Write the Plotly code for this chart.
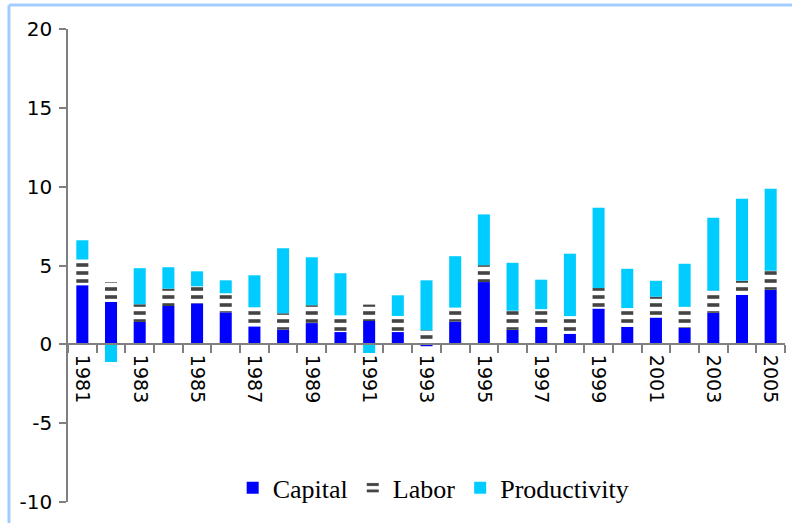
import plotly.graph_objects as go

# Данные (оценены по картинке)
years = [str(y) for y in range(1981, 2006)]
capital = [3.75, 2.69, 1.42, 2.43, 2.60, 2.03, 1.14, 0.93, 1.35, 0.78,
           1.48, 0.78, -0.12, 1.44, 3.95, 0.92, 1.11, 0.67, 2.27, 1.11,
           1.70, 1.05, 2.00, 3.14, 3.46]
labor = [1.63, 1.25, 1.12, 1.10, 1.08, 1.21, 1.21, 1.04, 1.13, 1.06,
         1.04, 1.02, 0.89, 0.89, 1.07, 1.21, 1.12, 1.12, 1.30, 1.19,
         1.32, 1.33, 1.40, 0.89, 1.21]
productivity = [1.22, -1.12, 2.29, 1.36, 0.95, 0.82, 2.03, 4.13, 3.04, 2.67,
                -0.55, 1.31, 3.17, 3.26, 3.22, 3.04, 1.87, 3.96, 5.10, 2.49,
                1.01, 2.73, 4.63, 5.21, 5.20]
tick_text = [y if i % 2 == 0 else "" for i, y in enumerate(years)]
y_ticks = [-10, -5, 0, 5, 10, 15, 20]
y_tick_text = [str(v) for v in y_ticks]  # обычный дефис, не "−"

fig = go.Figure()
fig.add_trace(go.Bar(x=years, y=capital, name="Capital",
                     marker=dict(color="#0000FF", line=dict(width=0))))
fig.add_trace(go.Bar(x=years, y=labor, name="Labor",
                     marker=dict(color="#ffffff", line=dict(width=0),
                                 pattern=dict(shape="-", fgcolor="#444444",
                                              bgcolor="#ffffff", size=8,
                                              solidity=0.45, fgopacity=1))))
fig.add_trace(go.Bar(x=years, y=productivity, name="Productivity",
                     marker=dict(color="#00CCFF", line=dict(width=0))))

fig.update_layout(
    width=792, height=523,
    barmode="relative", bargap=0.58,
    plot_bgcolor="white", paper_bgcolor="white",
    margin=dict(l=68, r=7, t=29, b=21),
    showlegend=True,
    legend=dict(orientation="h", x=0.51, y=0.03, xanchor="center", yanchor="middle",
                font=dict(family="Liberation Serif", size=26, color="#000000"),
                bgcolor="rgba(0,0,0,0)", itemwidth=30, tracegroupgap=0),
    xaxis=dict(type="category", anchor="free", position=1/3, automargin=False,
               tickmode="array", tickvals=years, ticktext=tick_text,
               tickson="boundaries", ticks="outside", ticklen=8,
               tickcolor="#808080", tickwidth=1.5,
               showline=True, linecolor="#808080", linewidth=1.5,
               tickangle=90, ticklabelstandoff=6,
               tickfont=dict(family="DejaVu Sans", size=19, color="#000000"),
               showgrid=False),
    yaxis=dict(range=[-10, 20], tickmode="array", tickvals=y_ticks,
               ticktext=y_tick_text, automargin=False,
               ticks="outside", ticklen=7, tickcolor="#808080", tickwidth=1.5,
               showline=True, linecolor="#808080", linewidth=1.5,
               showgrid=False, zeroline=False,
               tickfont=dict(family="DejaVu Sans", size=20, color="#000000"),
               ticklabelstandoff=3),
)

# светло-синяя рамка слева и сверху
border = "#a3cdfb"
fig.add_shape(type="line", xref="paper", yref="paper",
              x0=-0.0823, x1=-0.0823, y0=-0.05, y1=1.0507,
              line=dict(color=border, width=3))
fig.add_shape(type="line", xref="paper", yref="paper",
              x0=-0.0823, x1=1.02, y0=1.0507, y1=1.0507,
              line=dict(color=border, width=3))

# убираем стандартный отступ body, чтобы график встал в окно 792x523
fig.write_html("out.html", config={"displayModeBar": False},
               post_script="document.body.style.margin='0';")
